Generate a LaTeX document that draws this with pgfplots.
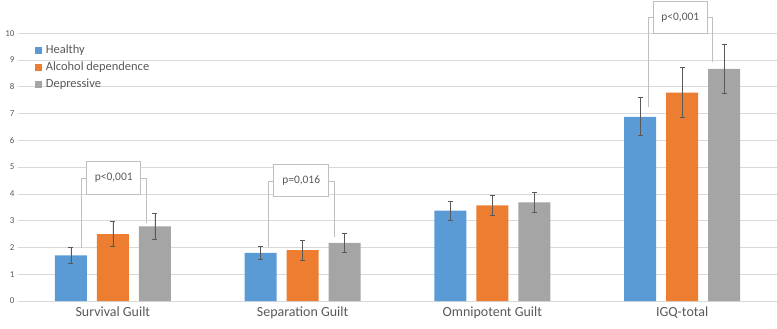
\documentclass[border=0pt]{standalone}
\usepackage{fontspec}
\setmainfont{Carlito}
\usepackage{pgfplots}
\pgfplotsset{compat=1.18}
\definecolor{cBlue}{HTML}{5B9BD5}
\definecolor{cOrange}{HTML}{ED7D31}
\definecolor{cGray}{HTML}{A5A5A5}
\definecolor{gridc}{HTML}{D9D9D9}
\definecolor{txt}{HTML}{595959}
\definecolor{brk}{HTML}{BFBFBF}
\begin{document}
\begin{tikzpicture}
\begin{axis}[
  scale only axis,
  width=759bp, height=267.7bp,
  xmin=-0.5, xmax=3.5,
  ymin=0, ymax=10,
  ybar=10bp, bar width=32bp,
  xtick={0,1,2,3},
  xticklabels={Survival Guilt, Separation Guilt, Omnipotent Guilt, IGQ-total},
  ytick={0,1,...,10},
  major tick length=0pt,
  ymajorgrids,
  grid style={gridc, line width=0.8bp},
  axis x line*=bottom,
  axis y line*=left,
  y axis line style={draw=none},
  x axis line style={gridc, line width=0.8bp, -},
  /pgf/number format/assume math mode=true,
  xticklabel style={font=\fontsize{14}{16}\selectfont, text=txt, yshift=-2bp},
  yticklabel style={font=\fontsize{9}{11}\selectfont, text=txt},
  clip=false,
  legend style={at={(0.022,0.965)}, anchor=north west, draw=none, fill=none,
    font=\fontsize{12.5}{15}\selectfont, text=txt, row sep=3bp,
    inner sep=0pt},
  legend cell align=left,
  legend image code/.code={\fill[#1, draw=none] (0bp,-4bp) rectangle (7bp,3bp);
    \path (0bp,0bp) -- (9bp,0bp);},
  error bars/y dir=both,
  error bars/y explicit,
  error bars/error bar style={txt, line width=0.7bp},
  error bars/error mark options={txt, line width=0.7bp, rotate=90, mark size=2.5bp},
]
\addplot[fill=cBlue, draw=none] coordinates {
  (0,1.70) +- (0,0.30)
  (1,1.80) +- (0,0.25)
  (2,3.38) +- (0,0.36)
  (3,6.88) +- (0,0.71)
};
\addplot[fill=cOrange, draw=none] coordinates {
  (0,2.50) +- (0,0.47)
  (1,1.90) +- (0,0.37)
  (2,3.57) +- (0,0.36)
  (3,7.78) +- (0,0.93)
};
\addplot[fill=cGray, draw=none] coordinates {
  (0,2.79) +- (0,0.50)
  (1,2.17) +- (0,0.37)
  (2,3.68) +- (0,0.36)
  (3,8.67) +- (0,0.93)
};
\legend{Healthy, Alcohol dependence, Depressive}

% significance brackets
\draw[brk, line width=0.7bp] (axis cs:-0.168,1.98) |- (axis cs:-0.138,4.58);
\draw[brk, line width=0.7bp] (axis cs:0.177,2.91) |- (axis cs:0.147,4.58);
\draw[brk, line width=0.7bp, fill=white] (axis cs:-0.138,4.0) rectangle (axis cs:0.147,5.2)
  node[midway, text=txt, font=\fontsize{11.5}{13}\selectfont] {p<0,001};

\draw[brk, line width=0.7bp] (axis cs:0.82,2.03) |- (axis cs:0.848,4.48);
\draw[brk, line width=0.7bp] (axis cs:1.165,2.38) |- (axis cs:1.137,4.48);
\draw[brk, line width=0.7bp, fill=white] (axis cs:0.848,3.9) rectangle (axis cs:1.137,5.1)
  node[midway, text=txt, font=\fontsize{11.5}{13}\selectfont] {p=0,016};

\draw[brk, line width=0.7bp] (axis cs:2.82,7.24) |- (axis cs:2.847,10.6);
\draw[brk, line width=0.7bp] (axis cs:3.16,8.92) |- (axis cs:3.134,10.6);
\draw[brk, line width=0.7bp, fill=white] (axis cs:2.847,10.0) rectangle (axis cs:3.134,11.18)
  node[midway, text=txt, font=\fontsize{11.5}{13}\selectfont] {p<0,001};
\end{axis}
\pgfresetboundingbox
\path (-18bp,-28bp) rectangle (759bp,301bp);
\end{tikzpicture}
\end{document}
